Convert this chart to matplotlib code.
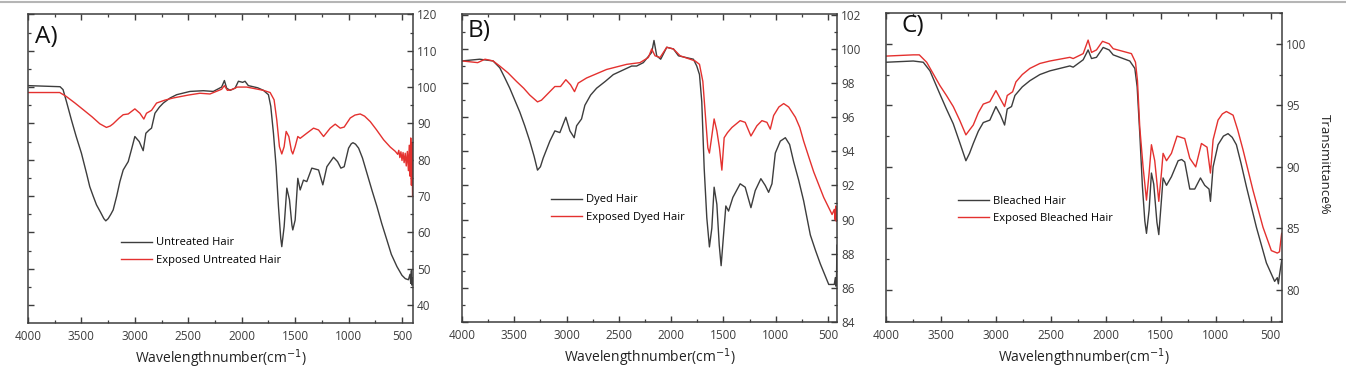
import matplotlib.pyplot as plt
import numpy as np
from matplotlib.ticker import MultipleLocator
from matplotlib.lines import Line2D

plt.rcParams['font.family'] = ['Open Sans', 'DejaVu Sans']

# spectra: columns are wavenumber (cm-1), transmittance %
untreated = np.array([
    [4000, 100.4], [3700, 100.1], [3672, 99.3], [3640, 96.0], [3594, 91.0], [3550, 86.5],
    [3500, 81.8], [3450, 76.0], [3422, 72.6], [3390, 70.0], [3359, 67.6], [3320, 65.5],
    [3290, 63.8], [3272, 63.2], [3250, 63.8], [3225, 65.0], [3203, 66.2], [3170, 70.0],
    [3140, 74.0], [3109, 77.2], [3062, 79.5], [3030, 83.0], [3000, 86.4],
    [2959, 85.0], [2922, 82.5], [2897, 87.3], [2866, 88.2], [2844, 88.7], [2812, 92.8],
    [2770, 94.5], [2734, 95.6], [2670, 97.0], [2609, 97.9], [2484, 98.8], [2359, 99.0],
    [2266, 98.8], [2188, 100.0],
    [2162, 101.8], [2141, 99.7], [2109, 99.1], [2062, 99.7], [2031, 101.6], [1991, 101.3],
    [1969, 101.6], [1938, 100.4], [1850, 99.8], [1797, 99.1], [1750, 97.9], [1728, 94.7],
    [1703, 87.3], [1678, 78.1], [1656, 67.1], [1635, 58.5], [1625, 56.1], [1603, 61.6],
    [1578, 72.2], [1553, 69.0], [1530, 62.0], [1522, 60.7], [1500, 63.4], [1475, 74.9],
    [1453, 71.7], [1422, 74.4], [1391, 74.0], [1344, 77.7], [1281, 77.2], [1241, 73.1],
    [1203, 78.1], [1141, 80.7], [1103, 79.5], [1072, 77.7], [1041, 78.1], [1000, 83.2],
    [975, 84.4], [959, 84.7], [935, 84.3], [906, 83.2], [870, 80.5], [828, 76.3],
    [780, 71.5], [734, 67.1], [690, 62.5], [641, 57.9], [600, 54.0], [547, 50.6],
    [500, 48.2], [469, 47.3], [440, 47.0], [425, 48.5],
    [418, 46.0], [412, 49.5], [406, 45.5], [400, 47.5],
])
exposed_untreated = np.array([
    [4000, 98.5], [3703, 98.5], [3641, 97.4], [3560, 95.6], [3484, 93.8], [3400, 91.8],
    [3328, 89.9], [3266, 88.9], [3230, 89.3], [3203, 89.9], [3150, 91.4], [3109, 92.4],
    [3062, 92.6], [3000, 94.0], [2953, 92.8], [2916, 91.2],
    [2891, 92.8], [2844, 93.6], [2797, 95.6], [2720, 96.4], [2641, 97.0], [2500, 97.8],
    [2391, 98.3], [2297, 98.1],
    [2188, 99.4], [2162, 100.4], [2134, 99.1], [2094, 99.3], [2041, 100.0], [1953, 100.0],
    [1797, 99.1], [1734, 98.5], [1697, 96.5], [1672, 91.0], [1647, 83.6], [1625, 81.6],
    [1603, 83.6], [1584, 87.8], [1559, 86.4], [1535, 82.5], [1522, 81.6], [1500, 83.6],
    [1475, 86.4], [1453, 85.9], [1391, 87.3], [1328, 88.7], [1281, 88.2], [1234, 86.4],
    [1172, 88.7], [1125, 89.8], [1078, 88.7], [1041, 89.0], [984, 91.5], [940, 92.3],
    [891, 92.6], [850, 92.0], [797, 90.5], [740, 88.3],
    [672, 85.5], [610, 83.5], [562, 82.3], [540, 81.5], [530, 82.6], [520, 80.6],
    [510, 82.2], [500, 79.8], [490, 82.0], [480, 79.2], [470, 81.8], [460, 78.3],
    [450, 82.3], [440, 77.0], [432, 84.0], [425, 75.5], [418, 86.0], [412, 73.0],
    [406, 84.5], [401, 70.0],
])
dyed = np.array([
    [4000, 99.3], [3831, 99.4], [3703, 99.3], [3639, 98.9], [3590, 98.3], [3543, 97.7],
    [3447, 96.3], [3400, 95.5], [3352, 94.6], [3310, 93.7], [3278, 92.9], [3250, 93.1],
    [3224, 93.6], [3160, 94.6], [3112, 95.2], [3064, 95.1],
    [3007, 96.0], [2968, 95.2], [2927, 94.8], [2904, 95.5], [2857, 95.9], [2825, 96.7],
    [2770, 97.3], [2713, 97.7], [2630, 98.1], [2553, 98.5], [2378, 99.0], [2330, 99.0],
    [2266, 99.2], [2186, 99.8],
    [2164, 100.5], [2138, 99.6], [2100, 99.4], [2042, 100.1], [1978, 100.0], [1930, 99.6],
    [1787, 99.4], [1755, 99.0], [1729, 98.5], [1707, 96.9], [1684, 93.0], [1659, 90.1],
    [1634, 88.4], [1611, 89.5], [1589, 91.9], [1563, 90.9], [1540, 88.5], [1522, 87.3],
    [1499, 89.1], [1477, 90.8], [1451, 90.5], [1410, 91.3], [1340, 92.1], [1292, 91.9],
    [1237, 90.7], [1196, 91.7], [1142, 92.4], [1100, 92.0], [1068, 91.6], [1036, 92.1],
    [1004, 93.9], [956, 94.6], [908, 94.8], [867, 94.4], [829, 93.4], [780, 92.3],
    [733, 91.1], [669, 89.1], [620, 88.2],
    [573, 87.4], [493, 86.2], [440, 86.2], [430, 86.6], [424, 86.1], [418, 86.8],
    [415, 88.5],
])
exposed_dyed = np.array([
    [4000, 99.3], [3850, 99.2], [3780, 99.4], [3703, 99.3], [3639, 99.0], [3560, 98.6],
    [3479, 98.1], [3410, 97.7], [3352, 97.3], [3278, 96.9], [3240, 97.0], [3192, 97.3],
    [3112, 97.8], [3058, 97.8], [3007, 98.2],
    [2962, 97.9], [2924, 97.5], [2889, 98.0], [2809, 98.3], [2617, 98.8], [2425, 99.1],
    [2298, 99.2], [2218, 99.5], [2186, 100.0], [2154, 99.6], [2106, 99.5], [2042, 100.1],
    [1978, 100.0], [1914, 99.6], [1771, 99.3], [1729, 99.1], [1697, 98.1], [1675, 96.3],
    [1649, 94.2], [1634, 93.9], [1611, 94.9], [1589, 95.9], [1563, 95.2], [1538, 94.2],
    [1515, 92.9], [1493, 94.8], [1461, 95.1], [1419, 95.4], [1340, 95.8], [1292, 95.7],
    [1237, 94.9], [1180, 95.5], [1132, 95.8], [1084, 95.7], [1052, 95.3], [1020, 96.1],
    [970, 96.6], [924, 96.8], [876, 96.6], [812, 96.0], [770, 95.4], [733, 94.6],
    [680, 93.6], [637, 92.8], [541, 91.3],
    [461, 90.3], [440, 90.6], [432, 90.0], [426, 90.8], [420, 89.9], [415, 90.6],
])
bleached = np.array([
    [4000, 98.5], [3752, 98.6], [3661, 98.5], [3600, 97.8], [3509, 95.9], [3450, 94.7],
    [3388, 93.5], [3330, 92.0], [3273, 90.5], [3240, 91.1], [3206, 91.9], [3160, 92.9],
    [3115, 93.6], [3055, 93.8], [3000, 94.9], [2958, 94.2],
    [2921, 93.4], [2897, 94.7], [2858, 94.9], [2827, 95.8], [2760, 96.5], [2691, 97.0],
    [2600, 97.5], [2509, 97.8],
    [2327, 98.2], [2297, 98.1], [2206, 98.7], [2161, 99.5], [2130, 98.8], [2085, 98.9],
    [2024, 99.7], [1970, 99.5], [1933, 99.1], [1782, 98.6], [1736, 98.0], [1715, 96.5],
    [1691, 92.7], [1667, 88.4], [1645, 85.6], [1630, 84.6], [1606, 86.5], [1585, 89.5],
    [1564, 88.6], [1535, 85.5], [1518, 84.5], [1494, 87.3], [1479, 89.1], [1448, 88.5],
    [1403, 89.2], [1342, 90.5], [1310, 90.6],
    [1282, 90.4], [1236, 88.2], [1191, 88.2], [1139, 89.1], [1100, 88.5], [1061, 88.2],
    [1048, 87.2], [1024, 90.0], [979, 91.8], [930, 92.5], [888, 92.7], [850, 92.4],
    [812, 91.8], [770, 90.3], [721, 88.4],
    [630, 85.1], [539, 82.2], [464, 80.7], [440, 81.0], [430, 80.5], [420, 81.2],
    [400, 82.4],
])
exposed_bleached = np.array([
    [4000, 99.0], [3752, 99.1], [3697, 99.1], [3630, 98.5], [3509, 96.6], [3450, 95.8],
    [3388, 94.9], [3330, 93.8], [3273, 92.6], [3240, 93.0], [3206, 93.4], [3160, 94.4],
    [3115, 95.1], [3055, 95.3], [3000, 96.2], [2958, 95.5],
    [2921, 94.9], [2897, 95.8], [2848, 96.1], [2818, 96.9], [2760, 97.5], [2691, 98.0],
    [2600, 98.4], [2509, 98.6],
    [2327, 98.9], [2297, 98.8], [2206, 99.2], [2161, 100.3], [2130, 99.3], [2085, 99.5],
    [2030, 100.2], [1970, 100.0], [1933, 99.6], [1767, 99.2], [1730, 98.5], [1712, 97.0],
    [1691, 93.2], [1661, 90.0], [1630, 87.3], [1606, 89.5], [1585, 91.8], [1555, 90.5],
    [1518, 87.2], [1494, 89.5], [1479, 91.1], [1448, 90.5], [1403, 91.1], [1352, 92.5],
    [1282, 92.3], [1236, 90.7], [1182, 90.0], [1130, 91.9], [1079, 91.6], [1048, 89.5],
    [1024, 92.2], [979, 93.8], [940, 94.3], [903, 94.5], [842, 94.2], [800, 93.0],
    [752, 91.4], [661, 88.1],
    [570, 85.1], [494, 83.2], [440, 83.0], [420, 83.1], [400, 84.6],
])

panels = [
    ('A)', untreated, exposed_untreated, 'Untreated Hair', 'Exposed Untreated Hair'),
    ('B)', dyed, exposed_dyed, 'Dyed Hair', 'Exposed Dyed Hair'),
    ('C)', bleached, exposed_bleached, 'Bleached Hair', 'Exposed Bleached Hair'),
]

W, H = 1346, 372
boxes = [(28, 413, 14, 323), (462, 837, 14, 322), (886, 1282, 13, 322)]
xmins = [397, 414, 397]
ylims = [(35.1, 120.1), (84, 102.05), (77.4, 102.5)]
ysteps = [(10, 5), (2, 1), (5, 2.5)]
label_pos = [(0.018, 0.906), (0.016, 0.925), (0.04, 0.938)]
leg_pos = [(0.242, 0.277), (0.2365, 0.414), (0.182, 0.409)]

dark = '#3d3d3d'
red = '#e4312f'

fig = plt.figure(figsize=(W / 100, H / 100), dpi=100)
fig.add_artist(Line2D([0, 1], [1 - 2 / H, 1 - 2 / H], color='#b5b5b5', lw=1.5))

for i, (tag, base, expo, l1, l2) in enumerate(panels):
    x0, x1, y0, y1 = boxes[i]
    ax = fig.add_axes([x0 / W, 1 - y1 / H, (x1 - x0) / W, (y1 - y0) / H])
    ax.plot(base[:, 0], base[:, 1], color=dark, lw=1.0, label=l1)
    ax.plot(expo[:, 0], expo[:, 1], color=red, lw=1.0, label=l2)
    ax.set_xlim(4000, xmins[i])
    ax.set_ylim(*ylims[i])
    ax.xaxis.set_major_locator(MultipleLocator(500))
    ax.xaxis.set_minor_locator(MultipleLocator(250))
    ax.yaxis.set_major_locator(MultipleLocator(ysteps[i][0]))
    ax.yaxis.set_minor_locator(MultipleLocator(ysteps[i][1]))
    ax.tick_params(which='both', direction='in', top=True, right=True, left=True,
                   labelleft=False, labelright=True, colors=dark, labelsize=8.5)
    ax.tick_params(which='major', length=4.5, width=1)
    ax.tick_params(which='minor', length=2.3, width=0.9)
    ax.tick_params(axis='x', pad=5)
    ax.tick_params(axis='y', pad=3)
    for s in ax.spines.values():
        s.set_color(dark)
        s.set_linewidth(1.1)
    ax.set_xlabel('Wavelengthnumber(cm$^{-1}$)', fontsize=10, labelpad=3, color='#222222')
    ax.text(label_pos[i][0], label_pos[i][1], tag, transform=ax.transAxes,
            fontsize=17.5, va='baseline', ha='left', color='#111111')
    ax.legend(loc='upper left', bbox_to_anchor=leg_pos[i], frameon=False, fontsize=8,
              borderpad=0, borderaxespad=0, handlelength=2.8, handletextpad=0.35,
              labelspacing=0.6)

fig.text(1324 / W, 0.559, 'Transmittance%', rotation=270, ha='center', va='center',
         fontsize=9.5, color='#222222')

fig.savefig('out.png', dpi=100)
